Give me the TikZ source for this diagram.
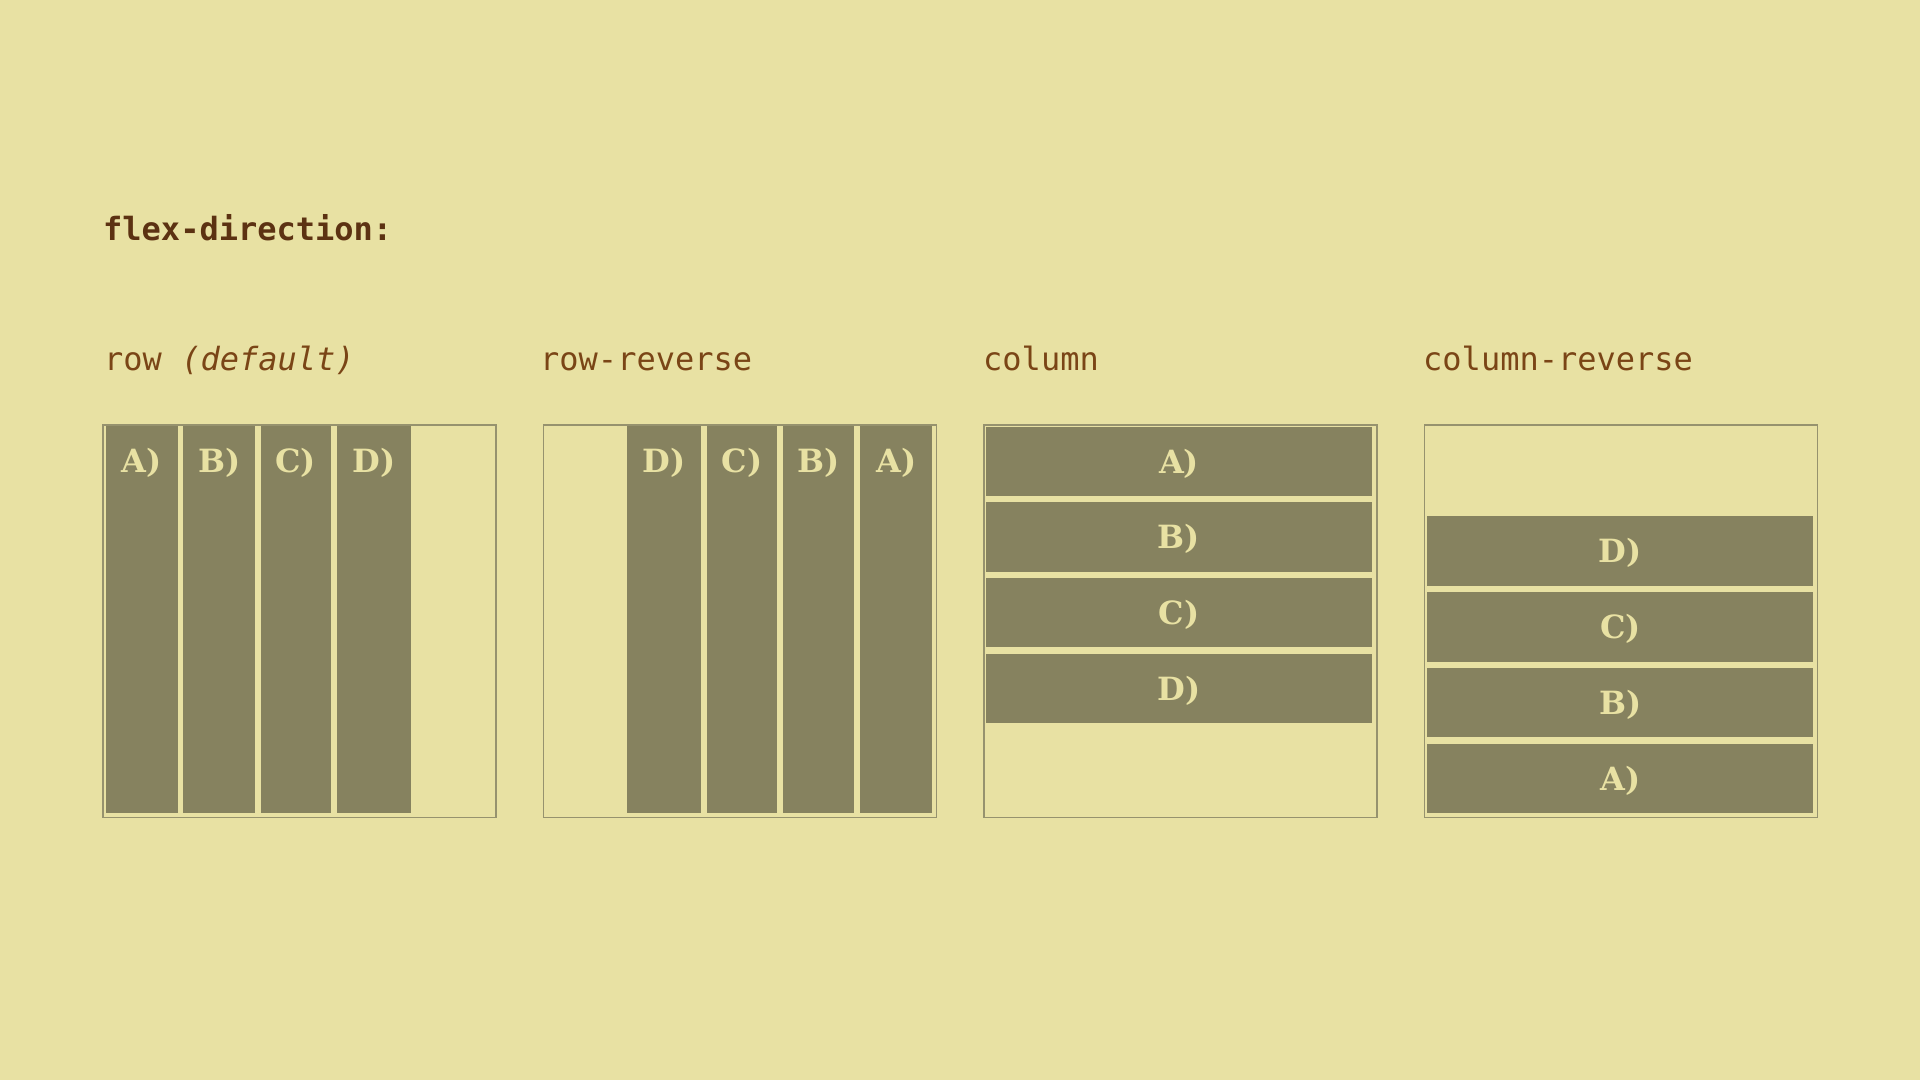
\documentclass[tikz,border=0pt]{standalone}
\usepackage{fontspec}
\setmonofont{DejaVu Sans Mono}
\newfontfamily\itemserif{DejaVu Serif}
\definecolor{pagebg}{HTML}{E8E1A3}
\definecolor{itemfill}{HTML}{86825F}
\definecolor{boxline}{HTML}{96926E}
\definecolor{titlebrown}{HTML}{5C3212}
\definecolor{capbrown}{HTML}{7A4516}
\begin{document}
\begin{tikzpicture}[x=1pt, y=-1pt,
    flexbox/.style={draw=boxline, line width=1.5pt, inner sep=0pt, anchor=north west,
      minimum width=393pt, minimum height=392.5pt},
    flexitem/.style={fill=itemfill, inner sep=0pt, outer sep=0pt, anchor=north west},
    itemsize/.style 2 args={minimum width=#1pt, minimum height=#2pt},
    itemtext/.style={text=pagebg, inner sep=0pt, anchor=base,
      font=\itemserif\bfseries\fontsize{32}{36}\selectfont},
    caption/.style={text=capbrown, inner sep=0pt, anchor=base west,
      font=\ttfamily\fontsize{32}{36}\selectfont},
    heading/.style={text=titlebrown, inner sep=0pt, anchor=base west,
      font=\ttfamily\bfseries\fontsize{32}{36}\selectfont}]
  \fill[pagebg] (0,0) rectangle (1920,1080);
  \useasboundingbox (0,0) rectangle (1920,1080);

  \node[heading] (title) at (103,240) {flex-direction:};

  \node[caption] (capRow) at (104,370) {row \textit{(default)}};
  \node[caption] (capRowRev) at (540,370) {row-reverse};
  \node[caption] (capCol) at (983,370) {column};
  \node[caption] (capColRev) at (1423,370) {column-reverse};

  \node[flexbox] (boxRow) at (102.2,424) {};
  \node[flexbox] (boxRowRev) at (542.7,424) {};
  \node[flexbox] (boxCol) at (983.2,424) {};
  \node[flexbox] (boxColRev) at (1423.7,424) {};

  \node[flexitem, itemsize={72}{387}] (rA) at (105.7,426) {};
  \node[flexitem, itemsize={71.7}{387}] (rB) at (183.3,426) {};
  \node[flexitem, itemsize={70}{387}] (rC) at (260.7,426) {};
  \node[flexitem, itemsize={74.3}{387}] (rD) at (336.7,426) {};
  \node[itemtext] (rAt) at ([yshift=-46.5pt]rA.north) {A)};
  \node[itemtext] (rBt) at ([yshift=-46.5pt]rB.north) {B)};
  \node[itemtext] (rCt) at ([yshift=-46.5pt]rC.north) {C)};
  \node[itemtext] (rDt) at ([yshift=-46.5pt]rD.north) {D)};

  \node[flexitem, itemsize={74.3}{387}] (rrD) at (626.7,426) {};
  \node[flexitem, itemsize={70.3}{387}] (rrC) at (707,426) {};
  \node[flexitem, itemsize={71.6}{387}] (rrB) at (782.7,426) {};
  \node[flexitem, itemsize={72.3}{387}] (rrA) at (860,426) {};
  \node[itemtext] (rrDt) at ([yshift=-46.5pt]rrD.north) {D)};
  \node[itemtext] (rrCt) at ([yshift=-46.5pt]rrC.north) {C)};
  \node[itemtext] (rrBt) at ([yshift=-46.5pt]rrB.north) {B)};
  \node[itemtext] (rrAt) at ([yshift=-46.5pt]rrA.north) {A)};

  \node[flexitem, itemsize={386.6}{69.5}] (cA) at (985.7,426.5) {};
  \node[flexitem, itemsize={386.6}{69.5}] (cB) at (985.7,502.2) {};
  \node[flexitem, itemsize={386.6}{69.5}] (cC) at (985.7,577.9) {};
  \node[flexitem, itemsize={386.6}{69.5}] (cD) at (985.7,653.6) {};
  \node[itemtext] (cAt) at ([yshift=-46.5pt]cA.north) {A)};
  \node[itemtext] (cBt) at ([yshift=-46.5pt]cB.north) {B)};
  \node[itemtext] (cCt) at ([yshift=-46.5pt]cC.north) {C)};
  \node[itemtext] (cDt) at ([yshift=-46.5pt]cD.north) {D)};

  \node[flexitem, itemsize={386}{69.5}] (crD) at (1427.3,516.4) {};
  \node[flexitem, itemsize={386}{69.5}] (crC) at (1427.3,592.1) {};
  \node[flexitem, itemsize={386}{69.5}] (crB) at (1427.3,667.8) {};
  \node[flexitem, itemsize={386}{69.5}] (crA) at (1427.3,743.5) {};
  \node[itemtext] (crDt) at ([yshift=-46.5pt]crD.north) {D)};
  \node[itemtext] (crCt) at ([yshift=-46.5pt]crC.north) {C)};
  \node[itemtext] (crBt) at ([yshift=-46.5pt]crB.north) {B)};
  \node[itemtext] (crAt) at ([yshift=-46.5pt]crA.north) {A)};
\end{tikzpicture}
\end{document}
